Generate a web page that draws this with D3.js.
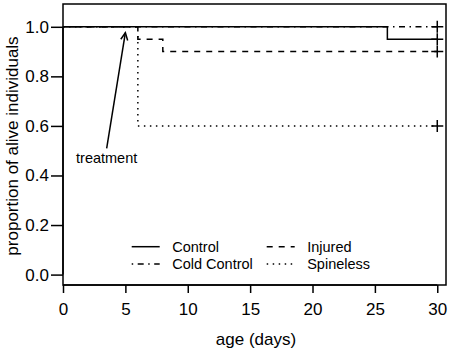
<!DOCTYPE html>
<html>
<head>
<meta charset="utf-8">
<script src="https://cdn.jsdelivr.net/npm/d3@7"></script>
<style>
  body { margin: 0; background: #fff; }
  svg { display: block; font-family: "Liberation Sans", Arial, sans-serif; }
</style>
</head>
<body>
<div id="chart"></div>
<script>
// survival step data
const groups = ["Control", "Cold Control", "Injured", "Spineless"];
const controlDays = [0, 26, 30];
const controlSurv = [1.0, 0.95, 0.95];
const coldDays = [0, 30];
const coldSurv = [1.0, 1.0];
const injuredDays = [0, 6, 8, 30];
const injuredSurv = [1.0, 0.95, 0.9, 0.9];
const spinelessDays = [0, 6, 30];
const spinelessSurv = [1.0, 0.6, 0.6];
const xTicks = [0, 5, 10, 15, 20, 25, 30];
const yTicks = [0, 0.2, 0.4, 0.6, 0.8, 1.0];

const W = 454, H = 354;
const svg = d3.select("#chart").append("svg")
  .attr("width", W).attr("height", H);

const x = d3.scaleLinear().domain([0, 30.7]).range([63, 446]);
const y = d3.scaleLinear().domain([-0.042, 1.092]).range([285, 4]);

const dashes = {
  "Control": null,
  "Cold Control": "1.5,4.5,6,4.5",
  "Injured": "6,6",
  "Spineless": "1.5,4.5"
};

const series = [
  { name: "Control", days: controlDays, surv: controlSurv },
  { name: "Cold Control", days: coldDays, surv: coldSurv },
  { name: "Injured", days: injuredDays, surv: injuredSurv },
  { name: "Spineless", days: spinelessDays, surv: spinelessSurv }
];

// box
svg.append("rect")
  .attr("x", x(0)).attr("y", y(1.092))
  .attr("width", x(30.7) - x(0)).attr("height", y(-0.042) - y(1.092))
  .attr("fill", "none").attr("stroke", "#000").attr("stroke-width", 1.5);

// axes
const xAxis = svg.append("g")
  .attr("transform", `translate(0,${y(-0.042)})`)
  .call(d3.axisBottom(x).tickValues(xTicks).tickSize(8).tickPadding(10).tickFormat(d3.format("d")));
xAxis.select(".domain").attr("d", `M${x(0)},0H${x(30)}`);

const yAxis = svg.append("g")
  .attr("transform", `translate(${x(0)},0)`)
  .call(d3.axisLeft(y).tickValues(yTicks).tickSize(12).tickPadding(2).tickFormat(d3.format(".1f")));
yAxis.select(".domain").attr("d", `M0,${y(0)}V${y(1)}`);

[xAxis, yAxis].forEach(g => {
  g.selectAll("path, line").attr("stroke", "#000").attr("stroke-width", 1.5);
  g.selectAll("text").attr("fill", "#000")
    .style("font-size", "17px")
    .style("font-family", "Liberation Sans, Arial, sans-serif");
});

svg.append("text")
  .attr("x", 256).attr("y", 344.5)
  .attr("text-anchor", "middle")
  .style("font-size", "17px")
  .text("age (days)");

svg.append("text")
  .attr("transform", `translate(18,146) rotate(-90)`)
  .attr("text-anchor", "middle")
  .style("font-size", "17px")
  .text("proportion of alive individuals");

// step lines
const line = d3.line()
  .x(d => x(d[0])).y(d => y(d[1]))
  .curve(d3.curveStepAfter);

series.forEach(s => {
  const pts = s.days.map((d, i) => [d, s.surv[i]]);
  svg.append("path")
    .datum(pts)
    .attr("d", line)
    .attr("fill", "none")
    .attr("stroke", "#000")
    .attr("stroke-width", 1.5)
    .attr("stroke-dasharray", dashes[s.name]);

  // censor mark at last point
  const last = pts[pts.length - 1];
  const cx = x(last[0]), cy = y(last[1]);
  svg.append("path")
    .attr("d", `M${cx - 6},${cy}H${cx + 6}M${cx},${cy - 6}V${cy + 6}`)
    .attr("stroke", "#000").attr("stroke-width", 1.5);
});

// treatment arrow
const tail = [3.5, 0.509], tip = [5.0, 0.976];
const tx = x(tip[0]), ty = y(tip[1]);
svg.append("line")
  .attr("x1", x(tail[0])).attr("y1", y(tail[1]))
  .attr("x2", tx).attr("y2", ty)
  .attr("stroke", "#000").attr("stroke-width", 1.5);
const ang = Math.atan2(y(tail[1]) - ty, x(tail[0]) - tx);
const hl = 8, spread = 0.45;
svg.append("path")
  .attr("d", `M${tx + hl * Math.cos(ang - spread)},${ty + hl * Math.sin(ang - spread)}L${tx},${ty}L${tx + hl * Math.cos(ang + spread)},${ty + hl * Math.sin(ang + spread)}`)
  .attr("fill", "none").attr("stroke", "#000").attr("stroke-width", 1.5);

svg.append("text")
  .attr("x", x(3.5)).attr("y", y(0.47))
  .attr("dy", "0.35em")
  .attr("text-anchor", "middle")
  .style("font-size", "14.5px")
  .text("treatment");

// legend
const legendCols = [131.7, 266.7];
const legendRows = [246.7, 264];
const legendOrder = [["Control", 0, 0], ["Cold Control", 0, 1], ["Injured", 1, 0], ["Spineless", 1, 1]];
legendOrder.forEach(([name, c, r]) => {
  const lx = legendCols[c], ly = legendRows[r];
  svg.append("line")
    .attr("x1", lx).attr("x2", lx + 28)
    .attr("y1", ly).attr("y2", ly)
    .attr("stroke", "#000").attr("stroke-width", 1.5)
    .attr("stroke-dasharray", dashes[name]);
  svg.append("text")
    .attr("x", lx + 40.5).attr("y", ly)
    .attr("dy", "0.35em")
    .style("font-size", "14.5px")
    .text(name);
});
</script>
</body>
</html>
